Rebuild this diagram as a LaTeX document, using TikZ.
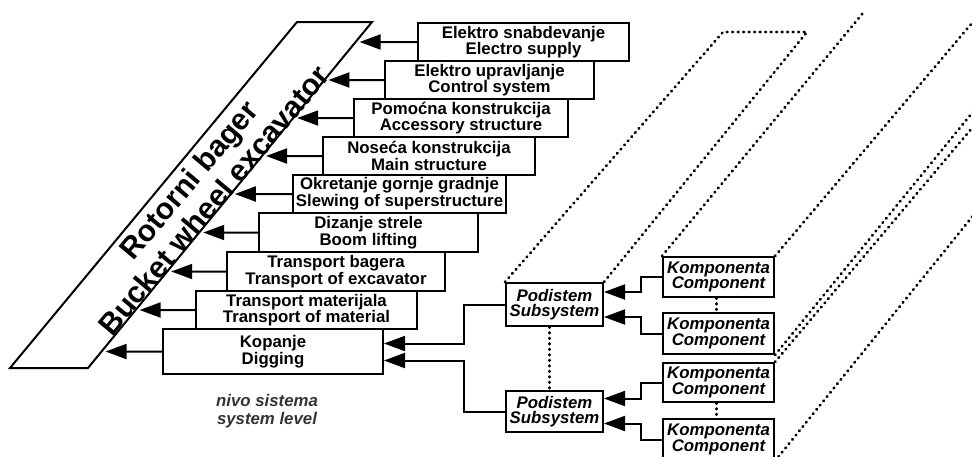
\documentclass[tikz,border=0pt]{standalone}
\usepackage{fontspec}
\setmainfont{Liberation Sans}
\usetikzlibrary{arrows.meta,calc}
\begin{document}
\begin{tikzpicture}[x=1pt,y=-1pt,
  box/.style={draw, line width=2pt, inner sep=0pt, align=center, fill=white,
    font=\fontsize{16.8}{15.5}\selectfont\bfseries},
  ibox/.style={box, font=\fontsize{16.8}{15.5}\selectfont\bfseries\itshape},
  arr/.style={line width=2pt, -{Triangle[length=21pt,width=15pt]}},
  conn/.style={line width=2pt},
  dots/.style={line width=2.8pt, dash pattern=on 0.7pt off 4.8pt, line cap=round, black},
]
\useasboundingbox (0,0) rectangle (972,456);
\clip (0,0) rectangle (972,456);

% system parallelogram
\coordinate (BL) at (10,368);
\coordinate (BR) at (88,368);
\coordinate (TR) at (372,22);
\coordinate (TL) at (297,22);
\draw[line width=2pt, line join=miter] (BL) -- (BR) -- (TR) -- (TL) -- cycle;
\node[rotate=50, align=center, inner sep=0pt,
  font=\fontsize{30}{32}\selectfont\bfseries] (title) at (201,190)
  {Rotorni bager\\Bucket wheel excavator};

% system boxes
\node[box, minimum width=211pt, minimum height=38pt] (b1) at (523.5,42) {Elektro snabdevanje\\Electro supply};
\node[box, minimum width=209pt, minimum height=38pt] (b2) at (489.5,80) {Elektro upravljanje\\Control system};
\node[box, minimum width=214pt, minimum height=38pt] (b3) at (461,118) {Pomoćna konstrukcija\\Accessory structure};
\node[box, minimum width=212pt, minimum height=38pt] (b4) at (429,156) {Noseća konstrukcija\\Main structure};
\node[box, minimum width=213pt, minimum height=38pt] (b5) at (399.5,194) {Okretanje gornje gradnje\\Slewing of superstructure};
\node[box, minimum width=219pt, minimum height=39pt] (b6) at (368.5,232.5) {Dizanje strele\\Boom lifting};
\node[box, minimum width=218pt, minimum height=39pt] (b7) at (336,271.5) {Transport bagera\\Transport of excavator};
\node[box, minimum width=221pt, minimum height=38pt] (b8) at (306.5,310) {Transport materijala\\Transport of material};
\node[box, minimum width=220pt, minimum height=45pt] (b9) at (273,351.5) {Kopanje\\Digging};

\foreach \b in {b1,b2,b3,b4,b5,b6,b7,b8,b9}
  \draw[arr, shorten >=4pt] (\b.west) -- (intersection of \b.west--\b.east and TR--BR);

\node[font=\fontsize{16.8}{18}\selectfont\bfseries\itshape, text=black!80, align=center] (lvl) at (267,411) {nivo sistema\\system level};

% subsystems
\node[ibox, minimum width=97pt, minimum height=43pt] (p1) at (554.5,304.5) {Podistem\\Subsystem};
\node[ibox, minimum width=97pt, minimum height=41pt] (p2) at (554.5,411.5) {Podistem\\Subsystem};

% components
\node[ibox, minimum width=111pt, minimum height=40pt] (c1) at (718.5,277) {Komponenta\\Component};
\node[ibox, minimum width=111pt, minimum height=41pt] (c2) at (718.5,333.5) {Komponenta\\Component};
\node[ibox, minimum width=111pt, minimum height=39pt] (c3) at (718.5,382.5) {Komponenta\\Component};
\node[ibox, minimum width=111pt, minimum height=41pt] (c4) at (718.5,439.5) {Komponenta\\Component};

% subsystem -> system
\draw[arr] (p1.west) -- ++(-41,0) |- ($(b9.east)+(0,-8)$);
\draw[arr] (p2.west) -- ++(-41,0) |- ($(b9.east)+(0,9)$);

% component -> subsystem
\draw[arr] (c1.west) -- ++(-21,0) |- ($(p1.east)+(0,-12.5)$);
\draw[arr] (c2.west) -- ++(-21,0) |- ($(p1.east)+(0,12.5)$);
\draw[arr] (c3.west) -- ++(-21,0) |- ($(p2.east)+(0,-13)$);
\draw[arr] (c4.west) -- ++(-21,0) |- ($(p2.east)+(0,12)$);

% dotted lines
\coordinate (q1) at (723,32);
\coordinate (q2) at (807,32);
\draw[dots] (p1.north west) -- (q1) -- (q2) -- (p1.north east);
\draw[dots] ($(p1.south)+(-5,0)$) -- ($(p2.north)+(-5,0)$);
\draw[dots] ($(c1.south)+(-2,0)$) -- ($(c2.north)+(-2,0)$);
\draw[dots] ($(c3.south)+(-2,0)$) -- ($(c4.north)+(-2,0)$);
\coordinate (r1) at (863,13);
\draw[dots] (c1.north west) -- (r1);
\coordinate (r2) at (972,23);
\coordinate (r3) at (972,113);
\coordinate (r4) at (972,128);
\coordinate (r5) at (972,217);
\draw[dots] (c1.north east) -- ($(c1.north east)!1.15!(r2)$);
\draw[dots] (c2.south east) -- ($(c2.south east)!1.15!(r3)$);
\draw[dots] (c3.north east) -- ($(c3.north east)!1.15!(r4)$);
\draw[dots] (c4.south east) -- ($(c4.south east)!1.15!(r5)$);
\end{tikzpicture}
\end{document}
